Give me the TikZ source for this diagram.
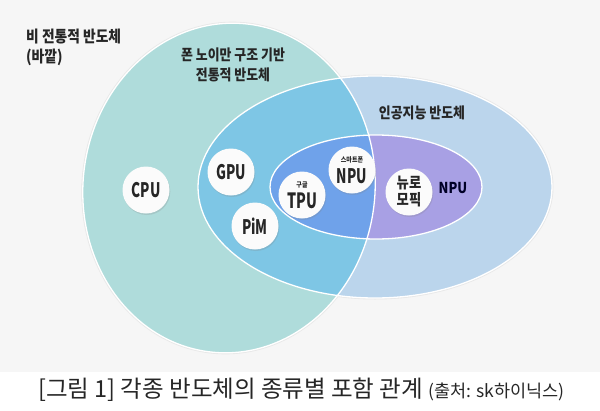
\documentclass[tikz,border=0pt]{standalone}
\usepackage{fontspec}
\usetikzlibrary{shadows}
\newfontfamily\krfont{Noto Sans CJK KR}[FakeStretch=0.86]
\newfontfamily\latfont{Noto Sans CJK KR}[FakeStretch=0.68]
\newfontfamily\capfont{Noto Sans CJK KR}
\definecolor{bgc}{HTML}{F6F6F6}
\definecolor{tealc}{HTML}{AFDCDB}
\definecolor{aic}{HTML}{BBD5EC}
\definecolor{interc}{HTML}{7EC6E5}
\definecolor{purc}{HTML}{A8A0E4}
\definecolor{purinter}{HTML}{6FA2EA}
\definecolor{txt}{HTML}{262626}
\tikzset{
  bubble/.style={circle, minimum size=47pt, inner sep=0pt, fill=white!97!gray,
    drop shadow={opacity=0.22, shadow xshift=0.8pt, shadow yshift=-1.5pt},
    text=txt, align=center},
  lat/.style={font=\latfont\bfseries\fontsize{20}{20}\selectfont},
  duo/.style={font=\latfont\bfseries\fontsize{20}{16.5}\selectfont},
  kr/.style={font=\krfont\bfseries\fontsize{15}{19.5}\selectfont, text=txt, align=center, inner sep=0pt},
  rim/.style={draw=white, line width=1.3pt},
  halo/.style={draw=black!9, line width=3pt},
}
\begin{document}
\begin{tikzpicture}[x=1pt,y=-1pt]
\useasboundingbox (0,0) rectangle (600,410);
\fill[bgc] (0,0) rectangle (600,372);
\fill[white] (0,372) rectangle (600,410);
% outer halos
\path[halo, shift={(229,188)}, rotate=-6] (0,0) ellipse [x radius=146, y radius=165];
\path[halo] (375,187) ellipse [x radius=177, y radius=111];
% fills
\fill[tealc, shift={(229,188)}, rotate=-6] (0,0) ellipse [x radius=146, y radius=165];
\fill[aic] (375,187) ellipse [x radius=177, y radius=111];
\begin{scope}
  \clip[shift={(229,188)}, rotate=-6] (0,0) ellipse [x radius=146, y radius=165];
  \fill[interc] (375,187) ellipse [x radius=177, y radius=111];
\end{scope}
\fill[purc] (376,187) ellipse [x radius=106, y radius=52];
\begin{scope}
  \clip[shift={(229,188)}, rotate=-6] (0,0) ellipse [x radius=146, y radius=165];
  \fill[purinter] (376,187) ellipse [x radius=106, y radius=52];
\end{scope}
% rims
\path[rim, shift={(229,188)}, rotate=-6] (0,0) ellipse [x radius=146, y radius=165];
\path[rim] (375,187) ellipse [x radius=177, y radius=111];
\path[rim] (376,187) ellipse [x radius=106, y radius=52];
% region labels
\node[kr, anchor=north west, align=left, font=\krfont\bfseries\fontsize{16}{19.5}\selectfont] (outside) at (26,29) {비 전통적 반도체\\(바깥)};
\node[kr] (vonneumann) at (233,65) {폰 노이만 구조 기반\\전통적 반도체};
\node[kr] (ai) at (422,113) {인공지능 반도체};
\node[kr, text=black!85!blue] (npu) at (453,188) {NPU};
% bubbles
\node[bubble, lat] (cpu) at (146,190) {CPU};
\node[bubble, lat] (gpu) at (231,172) {GPU};
\node[bubble, lat] (pim) at (255,226) {PiM};
\node[bubble, duo] (tpu) at (302,195) {{\krfont\fontsize{7}{7}\selectfont 구글}\\[4.5pt]{\fontsize{21}{16.5}\selectfont TPU}};
\node[bubble, duo] (snpu) at (352,170) {{\krfont\fontsize{7}{7}\selectfont 스마트폰}\\[4.5pt]NPU};
\node[bubble, font=\krfont\bfseries\fontsize{15.5}{17}\selectfont] (neuro) at (409,192) {뉴로\\모픽};
% caption
\node[anchor=base west, inner sep=0pt, text=txt] (caption) at (38,397)
  {\capfont\fontsize{23.5}{26}\selectfont [그림 1] 각종 반도체의 종류별 포함 관계 {\fontsize{17.5}{19}\selectfont (출처: sk하이닉스)}};
\end{tikzpicture}
\end{document}
